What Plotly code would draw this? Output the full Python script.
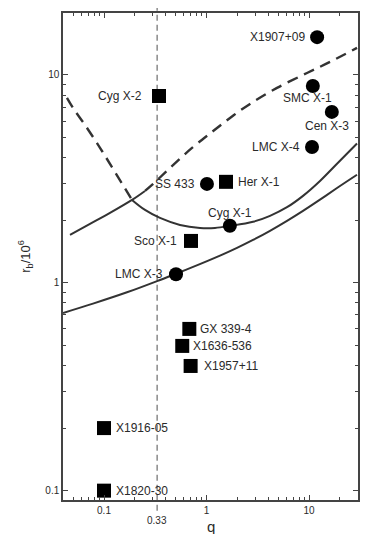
import math
import plotly.graph_objects as go

# ---- data ----
circle_names = ["X1907+09", "SMC X-1", "Cen X-3", "LMC X-4", "SS 433", "Cyg X-1", "LMC X-3"]
circle_q = [12.0, 10.9, 16.7, 10.7, 1.01, 1.69, 0.504]
circle_r = [15.2, 8.85, 6.64, 4.50, 2.99, 1.88, 1.10]

square_names = ["Cyg X-2", "Her X-1", "Sco X-1", "GX 339-4", "X1636-536", "X1957+11", "X1916-05", "X1820-30"]
square_q = [0.344, 1.55, 0.706, 0.68, 0.58, 0.70, 0.10, 0.10]
square_r = [7.92, 3.06, 1.59, 0.60, 0.497, 0.398, 0.20, 0.10]

# curve A: dashed branch at small q, then solid U-shaped branch
curveA_dash_q = [0.0435, 0.0499, 0.0653, 0.0914, 0.128, 0.1876]
curveA_dash_r = [7.75, 6.93, 5.74, 4.46, 3.41, 2.504]
curveA_solid_q = [0.1876, 0.2512, 0.3517, 0.5512, 0.8641, 1.210, 1.696, 2.843, 4.164, 6.101, 8.741, 12.80, 18.76, 29.4]
curveA_solid_r = [2.504, 2.241, 2.051, 1.898, 1.836, 1.836, 1.877, 1.965, 2.10, 2.31, 2.62, 3.09, 3.74, 4.68]

# curve B: solid rising branch at small q, then dashed upper branch
curveB_solid_q = [0.0466, 0.0730, 0.1144, 0.1876, 0.2512]
curveB_solid_r = [1.699, 1.919, 2.168, 2.504, 2.766]
curveB_dash_q = [0.2512, 0.2939, 0.4404, 0.7220, 1.132, 1.696, 2.657, 4.873, 9.561, 16.03, 29.4]
curveB_dash_r = [2.766, 2.957, 3.569, 4.455, 5.318, 6.211, 7.253, 8.661, 10.22, 11.55, 13.5]

# lower solid curve
curveC_q = [0.0398, 0.0781, 0.1676, 0.3290, 0.4929, 0.6903, 1.354, 1.984, 2.843, 4.164, 6.101, 8.741, 12.80, 18.76, 29.4]
curveC_r = [0.716, 0.794, 0.900, 1.019, 1.102, 1.176, 1.351, 1.472, 1.607, 1.779, 1.986, 2.218, 2.512, 2.858, 3.31]

q_crit = 0.33
x_ticks = [0.1, 1, 10]
x_ticklabels = ["0.1", "1", "10"]
y_ticks = [0.1, 1, 10]
y_ticklabels = ["0.1", "1", "10"]

# ---- styles ----
FONT = "Liberation Sans, Arial, Helvetica, sans-serif"
INK = "#2a2a2a"
LINE = "#333333"

# label placement: (xanchor, yanchor, xshift, yshift)
label_style = {
    "X1907+09": ("right", "middle", -10, 0),
    "SMC X-1": ("center", "middle", -5, -12),
    "Cen X-3": ("center", "middle", -5, -14),
    "LMC X-4": ("right", "middle", -10, 0),
    "SS 433": ("right", "middle", -10, 0),
    "Cyg X-1": ("center", "middle", 0, 13),
    "LMC X-3": ("right", "middle", -11, 0),
    "Cyg X-2": ("right", "middle", -15, 0),
    "Her X-1": ("left", "middle", 10, 0),
    "Sco X-1": ("right", "middle", -12, 0),
    "GX 339-4": ("left", "middle", 9, 0),
    "X1636-536": ("left", "middle", 9, 0),
    "X1957+11": ("left", "middle", 11, 0),
    "X1916-05": ("left", "middle", 10, 0),
    "X1820-30": ("left", "middle", 10, 0),
}

fig = go.Figure()

def add_line(xs, ys, dash, width):
    fig.add_trace(go.Scatter(x=xs, y=ys, mode="lines",
                             line=dict(color=LINE, width=width, dash=dash, shape="spline", smoothing=1.0),
                             hoverinfo="skip", showlegend=False))

add_line(curveA_dash_q, curveA_dash_r, "11px,7px", 2.4)
add_line(curveA_solid_q, curveA_solid_r, "solid", 2)
add_line(curveB_solid_q, curveB_solid_r, "solid", 2)
add_line(curveB_dash_q, curveB_dash_r, "11px,7px", 2.4)
add_line(curveC_q, curveC_r, "solid", 2)

fig.add_trace(go.Scatter(x=circle_q, y=circle_r, mode="markers",
                         marker=dict(symbol="circle", size=14, color="#000000", line=dict(width=0)),
                         showlegend=False, text=circle_names))
fig.add_trace(go.Scatter(x=square_q, y=square_r, mode="markers",
                         marker=dict(symbol="square", size=14, color="#000000", line=dict(width=0)),
                         showlegend=False, text=square_names))

# annotations on log axes are positioned in log10 units
for names, qs, rs in ((circle_names, circle_q, circle_r), (square_names, square_q, square_r)):
    for n, qv, rv in zip(names, qs, rs):
        xa, ya, xs, ys = label_style[n]
        fig.add_annotation(x=math.log10(qv), y=math.log10(rv), xref="x", yref="y", text=n, showarrow=False,
                           xanchor=xa, yanchor=ya, xshift=xs, yshift=ys,
                           font=dict(family=FONT, size=12, color=INK))

# vertical dashed line at q = 0.33
fig.add_shape(type="line", xref="x", yref="paper", x0=q_crit, x1=q_crit, y0=-0.022, y1=1.012,
              line=dict(color="#8a8a8a", width=1.5, dash="6px,4px"), layer="below")
fig.add_annotation(x=math.log10(q_crit), y=0, xref="x", yref="paper", text=f"{q_crit:.2f}", showarrow=False,
                   yanchor="top", yshift=-13, font=dict(family=FONT, size=10, color=INK))
# x-axis title
fig.add_annotation(x=0.5, y=0, xref="paper", yref="paper", text="q", showarrow=False,
                   yanchor="top", yshift=-16, font=dict(family=FONT, size=15, color=INK))

minor_x = [0.04, 0.05, 0.06, 0.07, 0.08, 0.09, 0.2, 0.3, 0.4, 0.5, 0.6, 0.7, 0.8, 0.9,
           2, 3, 4, 5, 6, 7, 8, 9, 20]
minor_y = [0.2, 0.3, 0.4, 0.5, 0.6, 0.7, 0.8, 0.9, 2, 3, 4, 5, 6, 7, 8, 9]

axis_common = dict(type="log", showgrid=False, zeroline=False, showline=True, linecolor="#444444",
                   linewidth=1.5, mirror="allticks", ticks="inside", ticklen=5, tickwidth=1,
                   tickcolor="#444444", tickfont=dict(family=FONT, size=10, color=INK), automargin=False)

fig.update_xaxes(**axis_common, range=[-1.4, 1.478], tickmode="array", tickvals=x_ticks, ticktext=x_ticklabels,
                 minor=dict(ticks="inside", ticklen=3, tickcolor="#444444", tickmode="array", tickvals=minor_x))
fig.update_yaxes(**axis_common, range=[-1.045, 1.298], tickmode="array", tickvals=y_ticks, ticktext=y_ticklabels,
                 minor=dict(ticks="inside", ticklen=3, tickcolor="#444444", tickmode="array", tickvals=minor_y),
                 title=dict(text="r<sub>b</sub>/10<sup>6</sup>", font=dict(family=FONT, size=13, color=INK), standoff=12))

# page body adds an 8px offset, so the figure is sized to fit the 374x534 window
fig.update_layout(width=366, height=526, margin=dict(l=55, r=16, t=5, b=34, autoexpand=False),
                  paper_bgcolor="white", plot_bgcolor="white", showlegend=False)

fig.write_html("out.html")
